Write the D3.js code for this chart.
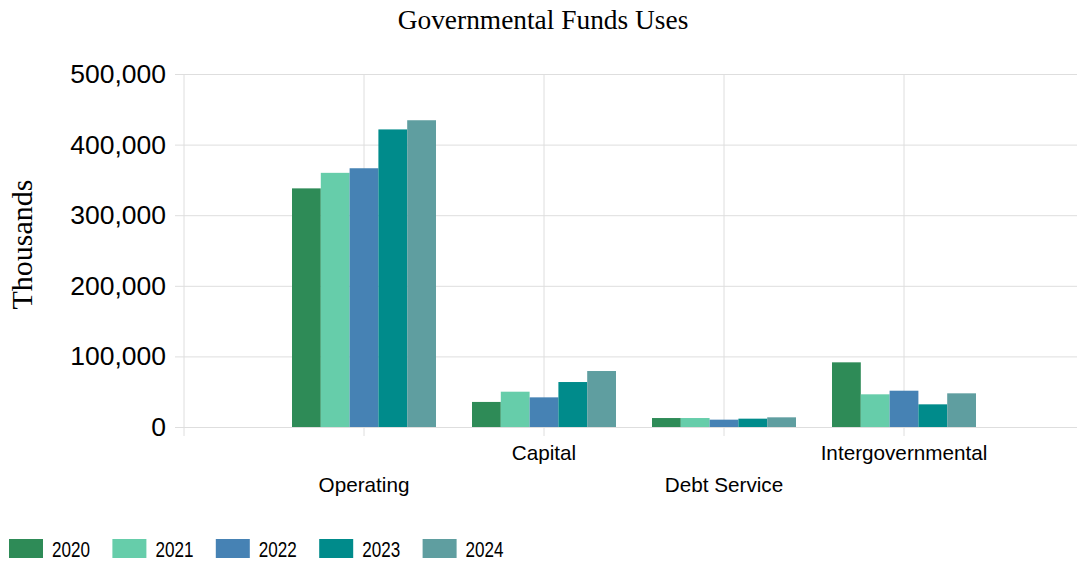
<!DOCTYPE html>
<html>
<head>
<meta charset="utf-8">
<script src="https://cdn.jsdelivr.net/npm/d3@7"></script>
<style>
	body { margin: 0; background: #fff; }
	svg { display: block; }
</style>
</head>
<body>
<script>
const width = 1077,
	height = 561;

const categories = ['Operating', 'Capital', 'Debt Service', 'Intergovernmental'];
const years = ['2020', '2021', '2022', '2023', '2024'];
const colors = ['#2E8B57', '#66CDAA', '#4682B4', '#008B8B', '#5F9EA0'];

// one array per year, in category order
const values2020 = [338000, 35500, 12700, 91600];
const values2021 = [360000, 50000, 12700, 46300];
const values2022 = [366500, 42000, 10400, 51400];
const values2023 = [421500, 63700, 11800, 32100];
const values2024 = [434500, 79300, 13700, 47700];
const series = [values2020, values2021, values2022, values2023, values2024];

const yTicks = [0, 100000, 200000, 300000, 400000, 500000];

const plot = { left: 184, right: 1084, top: 74, bottom: 427 };

let svg = d3.select('body').append('svg')
	.attr('width', width)
	.attr('height', height);

let x = d3.scalePoint()
	.domain(categories)
	.range([plot.left, plot.right])
	.padding(1);

let x1 = d3.scaleBand()
	.domain(years)
	.range([-72, 72]);

let y = d3.scaleLinear()
	.domain([0, 500000])
	.range([plot.bottom, plot.top]);

// horizontal grid + y labels
let yAxis = svg.append('g')
	.attr('transform', 'translate(' + plot.left + ',0)')
	.call(d3.axisLeft(y)
		.tickValues(yTicks)
		.tickSize(-(width - plot.left))
		.tickPadding(18)
		.tickFormat(d3.format(',')));
yAxis.select('.domain').remove();
yAxis.selectAll('.tick line')
	.attr('x1', -9)
	.attr('stroke', '#dedede');
yAxis.selectAll('.tick text')
	.attr('font-family', 'Liberation Sans, Arial, sans-serif')
	.attr('font-size', '26.5px')
	.attr('fill', '#000');

// vertical grid lines
let vLines = [plot.left].concat(categories.map(c => x(c)));
svg.append('g').selectAll('line')
	.data(vLines)
	.enter().append('line')
	.attr('x1', d => d).attr('x2', d => d)
	.attr('y1', plot.top).attr('y2', plot.bottom + 9)
	.attr('stroke', '#dedede');

// bars
svg.append('g').selectAll('g')
	.data(categories)
	.enter().append('g')
	.attr('transform', d => 'translate(' + x(d) + ',0)')
	.selectAll('rect')
	.data((d, i) => years.map((yr, j) => ({ year: yr, value: series[j][i], color: colors[j] })))
	.enter().append('rect')
	.attr('x', d => x1(d.year))
	.attr('width', x1.bandwidth())
	.attr('y', d => y(d.value))
	.attr('height', d => y(0) - y(d.value))
	.attr('fill', d => d.color);

// category labels, staggered
svg.append('g').selectAll('text')
	.data(categories)
	.enter().append('text')
	.attr('x', d => x(d))
	.attr('y', (d, i) => i % 2 === 0 ? 492 : 460)
	.attr('text-anchor', 'middle')
	.attr('font-family', 'Liberation Sans, Arial, sans-serif')
	.attr('font-size', '20.7px')
	.text(d => d);

// title
svg.append('text')
	.attr('x', 543)
	.attr('y', 29)
	.attr('text-anchor', 'middle')
	.attr('font-family', 'Liberation Serif, Times New Roman, serif')
	.attr('font-size', '27.4px')
	.text('Governmental Funds Uses');

// y title
svg.append('text')
	.attr('transform', 'translate(32,' + ((plot.top + plot.bottom) / 2 - 6) + ') rotate(-90)')
	.attr('text-anchor', 'middle')
	.attr('font-family', 'Liberation Serif, Times New Roman, serif')
	.attr('font-size', '30px')
	.text('Thousands');

// legend
let legend = svg.append('g').selectAll('g')
	.data(years)
	.enter().append('g')
	.attr('transform', (d, i) => 'translate(' + (9 + i * 103.4) + ',539)');
legend.append('rect')
	.attr('width', 34)
	.attr('height', 19)
	.attr('fill', (d, i) => colors[i]);
legend.append('text')
	.attr('x', 43)
	.attr('y', 17.5)
	.attr('font-family', 'Liberation Sans, Arial, sans-serif')
	.attr('font-size', '22px')
	.attr('textLength', 38)
	.attr('lengthAdjust', 'spacingAndGlyphs')
	.text(d => d);
</script>
</body>
</html>
